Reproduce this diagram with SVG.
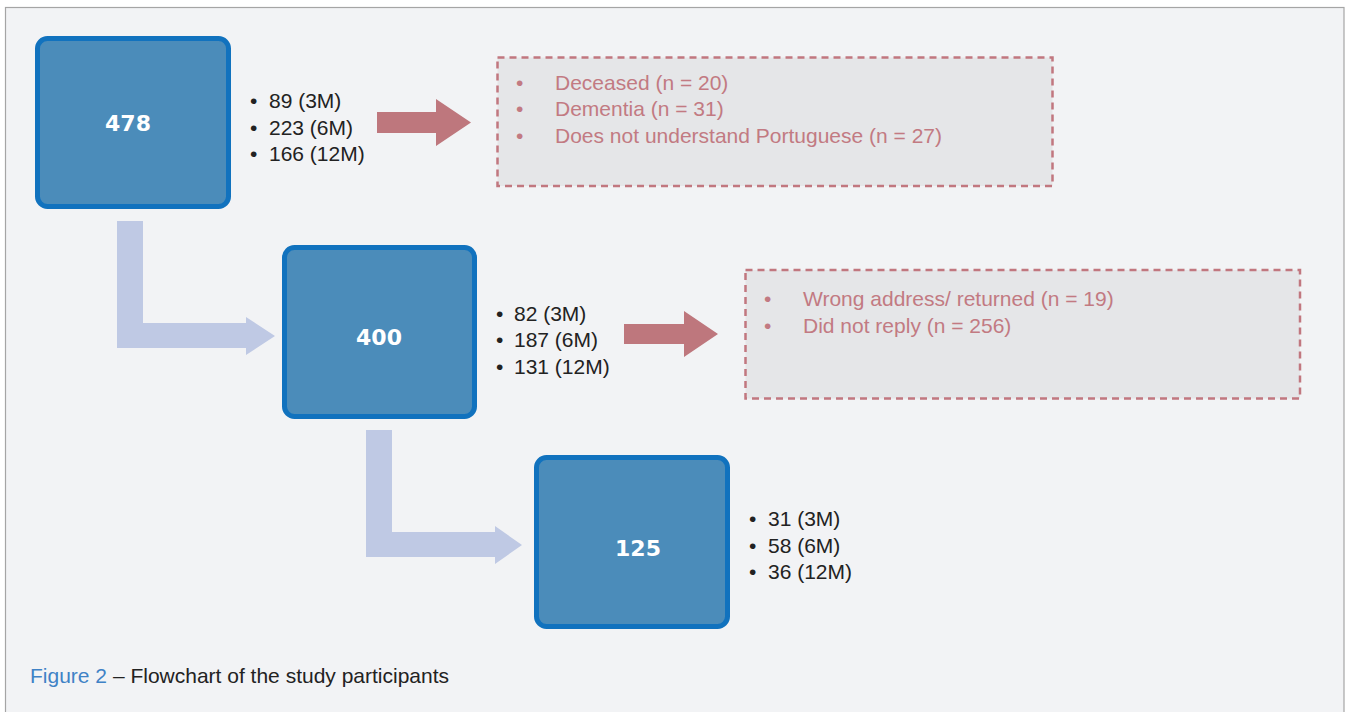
<svg xmlns="http://www.w3.org/2000/svg" width="1347" height="712" viewBox="0 0 1347 712">
<style>
.node rect{fill:#4B8CBA;stroke:#1172BE;stroke-width:5}
.num{font-family:"DejaVu Sans",Verdana,sans-serif;font-weight:bold;font-size:22px;fill:#FFFFFF;text-anchor:middle}
.lst{font-family:"Liberation Sans",Arial,sans-serif;font-size:21px;fill:#222222}
.ex rect{fill:#E5E6E8;stroke:#C1777F;stroke-width:2.5;stroke-dasharray:7 5}
.ext{font-family:"Liberation Sans",Arial,sans-serif;font-size:21px;fill:#C27A82}
.flow{fill:#BFC9E4}
.excl{fill:#BE777D}
.cap{font-family:"Liberation Sans",Arial,sans-serif;font-size:21px;fill:#222222}
</style>
<rect x="0" y="0" width="1347" height="712" fill="#FFFFFF"/>
<rect x="5.5" y="7.5" width="1338.5" height="720" fill="#F2F3F5" stroke="#A5A5A5" stroke-width="1.2"/>

<g id="connectors">
<polygon class="flow" points="117,221 143,221 143,323 246,323 246,317 275,336 246,355 246,348 117,348"/>
<polygon class="flow" points="366,430 392,430 392,532 495,532 495,526 522,545 495,564 495,557 366,557"/>
<polygon class="excl" points="377,112 436,112 436,99 471,122.5 436,146 436,133 377,133"/>
<polygon class="excl" points="624,324 684,324 684,311 718,334 684,357 684,344 624,344"/>
</g>

<g id="node-478" class="node">
<rect x="37.5" y="38.5" width="191" height="168" rx="10"/>
<text class="num" x="128" y="131">478</text>
</g>
<g id="list-478">
<text class="lst" x="250" y="108">•</text><text class="lst" x="269" y="108">89 (3M)</text>
<text class="lst" x="250" y="135">•</text><text class="lst" x="269" y="135">223 (6M)</text>
<text class="lst" x="250" y="161">•</text><text class="lst" x="269" y="161">166 (12M)</text>
</g>

<g id="excl-1" class="ex">
<rect x="497.5" y="57.5" width="555" height="128.5"/>
<text class="ext" x="516" y="90">•</text><text class="ext" x="555" y="90">Deceased (n = 20)</text>
<text class="ext" x="516" y="116">•</text><text class="ext" x="555" y="116">Dementia (n = 31)</text>
<text class="ext" x="516" y="143">•</text><text class="ext" x="555" y="143">Does not understand Portuguese (n = 27)</text>
</g>

<g id="node-400" class="node">
<rect x="284.5" y="247.5" width="190" height="169" rx="10"/>
<text class="num" x="379" y="345">400</text>
</g>
<g id="list-400">
<text class="lst" x="496" y="321">•</text><text class="lst" x="514" y="321">82 (3M)</text>
<text class="lst" x="496" y="347">•</text><text class="lst" x="514" y="347">187 (6M)</text>
<text class="lst" x="496" y="374">•</text><text class="lst" x="514" y="374">131 (12M)</text>
</g>

<g id="excl-2" class="ex">
<rect x="745.5" y="270" width="554.5" height="128.5"/>
<text class="ext" x="764" y="306">•</text><text class="ext" x="803" y="306">Wrong address/ returned (n = 19)</text>
<text class="ext" x="764" y="333">•</text><text class="ext" x="803" y="333">Did not reply (n = 256)</text>
</g>

<g id="node-125" class="node">
<rect x="536.5" y="457.5" width="191" height="169" rx="10"/>
<text class="num" x="638" y="556">125</text>
</g>
<g id="list-125">
<text class="lst" x="749" y="526">•</text><text class="lst" x="768" y="526">31 (3M)</text>
<text class="lst" x="749" y="553">•</text><text class="lst" x="768" y="553">58 (6M)</text>
<text class="lst" x="749" y="579">•</text><text class="lst" x="768" y="579">36 (12M)</text>
</g>

<g id="caption">
<text class="cap" x="30" y="683"><tspan fill="#3F82C6">Figure 2</tspan> – Flowchart of the study participants</text>
</g>
</svg>
